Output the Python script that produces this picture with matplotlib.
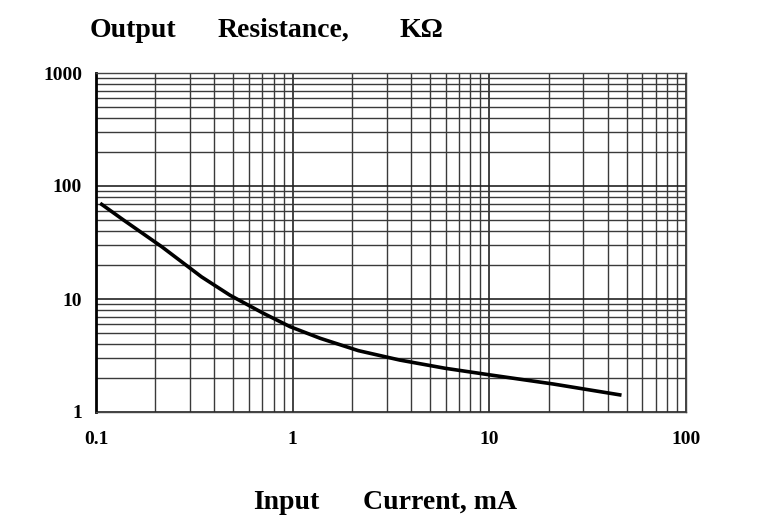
"""
plot.py - output resistance vs input current (log-log datasheet curve)
"""

import matplotlib
matplotlib.use("Agg")
import matplotlib.pyplot as plt
from matplotlib.ticker import LogLocator, NullFormatter, FixedLocator

# curve
current_ma = [0.105, 0.138, 0.216, 0.344, 0.48, 0.71, 0.97, 1.38, 2.16,
              3.51, 5.94, 10.07, 21.1, 47.0]
resistance_k = [70.3, 50.0, 29.0, 15.7, 10.8, 7.47, 5.69, 4.49, 3.49,
                2.88, 2.44, 2.13, 1.77, 1.41]

x_ticks = [0.1, 1, 10, 100]
x_labels = ["0.1", "1", "10", "100"]
y_ticks = [1, 10, 100, 1000]
y_labels = ["1", "10", "100", "1000"]

title_words = ["Output", "Resistance,", "K\u03a9"]
title_x = [90, 218, 400]
xlabel_words = ["Input", "Current, mA"]
xlabel_x = [253, 363]

SERIF = ["Liberation Serif", "DejaVu Serif"]
W, H = 764, 529

fig = plt.figure(figsize=(W / 100, H / 100), dpi=100)
ax = fig.add_axes([96 / W, 1 - 412 / H, 590 / W, 339 / H])

ax.set_xscale("log")
ax.set_yscale("log")
ax.set_xlim(0.1, 100)
ax.set_ylim(1, 1000)

ax.plot(current_ma, resistance_k, color="black", lw=2.6,
        solid_capstyle="butt", solid_joinstyle="round")

ax.xaxis.set_major_locator(FixedLocator(x_ticks))
ax.yaxis.set_major_locator(FixedLocator(y_ticks))
ax.xaxis.set_minor_locator(LogLocator(base=10, subs=range(2, 10)))
ax.yaxis.set_minor_locator(LogLocator(base=10, subs=range(2, 10)))
ax.xaxis.set_minor_formatter(NullFormatter())
ax.yaxis.set_minor_formatter(NullFormatter())
ax.set_xticklabels(x_labels)
ax.set_yticklabels(y_labels)

ax.grid(True, which="major", color="#222222", lw=1.2)
ax.grid(True, which="minor", color="#3a3a3a", lw=1.0)
ax.set_axisbelow(True)

ax.tick_params(which="both", length=0)
ax.tick_params(axis="x", pad=14)
ax.tick_params(axis="y", pad=10)
for lab in ax.get_xticklabels() + ax.get_yticklabels():
    lab.set_fontfamily(SERIF)
    lab.set_fontweight("bold")
    lab.set_fontsize(14)

for side in ["top", "right", "bottom"]:
    ax.spines[side].set_color("#444444")
    ax.spines[side].set_linewidth(1.0)
ax.spines["left"].set_color("black")
ax.spines["left"].set_linewidth(2.0)

# words placed one by one, on a common baseline, to keep the wide gaps
for word, x in zip(title_words, title_x):
    fig.text(x / W, 1 - 37 / H, word, family=SERIF, fontweight="bold",
             fontsize=20, va="baseline", ha="left")
for word, x in zip(xlabel_words, xlabel_x):
    fig.text(x / W, 1 - 509 / H, word, family=SERIF, fontweight="bold",
             fontsize=20, va="baseline", ha="left")

fig.savefig("out.png", dpi=100, facecolor="white")
